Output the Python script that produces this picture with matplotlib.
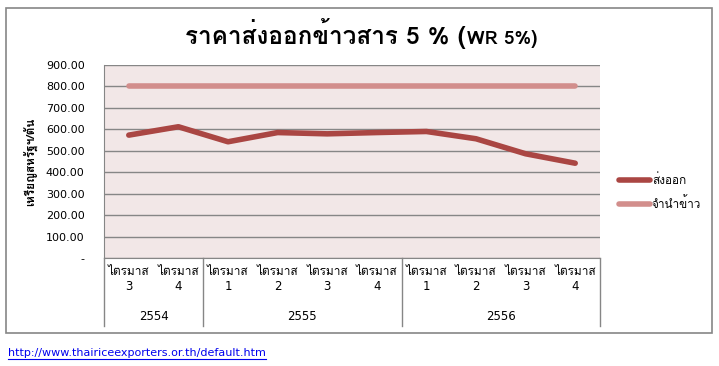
import matplotlib
matplotlib.use("Agg")
import matplotlib.pyplot as plt
from matplotlib import font_manager
from matplotlib.patches import Rectangle
from matplotlib.lines import Line2D
import numpy as np

# data (US$/ton)
years = ["2554", "2555", "2556"]
year_counts = [2, 4, 4]
quarters = ["3", "4", "1", "2", "3", "4", "1", "2", "3", "4"]
export_price = [573, 612, 542, 585, 579, 585, 590, 556, 486, 442]
pledge_price = [800, 800, 800, 800, 800, 800, 800, 800, 800, 800]
yticks = [0, 100, 200, 300, 400, 500, 600, 700, 800, 900]


def find_thai_font():
    # look for any installed font that can draw Thai
    try:
        from fontTools.ttLib import TTFont
    except Exception:
        return None
    found = []
    for f in font_manager.fontManager.ttflist:
        try:
            tt = TTFont(f.fname, fontNumber=0, lazy=True)
            cmap = tt.getBestCmap()
            if cmap and 0x0E2A in cmap and 0x0E44 in cmap:
                found.append(f.name)
        except Exception:
            continue
    for pref in ["Tahoma", "Loma", "Garuda", "Noto Sans Thai", "Noto Sans Thai UI",
                 "Sarabun", "Kinnari", "Norasi", "Waree", "Umpush"]:
        if pref in found:
            return pref
    return found[0] if found else None


thai = find_thai_font()
families = ([thai] if thai else []) + ["DejaVu Sans"]
plt.rcParams["font.family"] = families

fig = plt.figure(figsize=(7.19, 3.66), dpi=100)
W, H = 719, 366


def fx(px):
    return px / W


def fy(py):
    return 1 - py / H


# outer chart frame
fig.patches.append(Rectangle((fx(6), fy(333)), fx(712) - fx(6), fy(8) - fy(333),
                             transform=fig.transFigure, fill=False,
                             edgecolor="#868686", linewidth=1.2))

ax = fig.add_axes([fx(104), fy(258), fx(600) - fx(104), fy(65) - fy(258)])
ax.set_facecolor("#F2E7E7")
x = np.arange(len(quarters))
ax.plot(x, export_price, color="#AA4643", linewidth=4, solid_capstyle="round",
        label="ส่งออก", zorder=3)
ax.plot(x, pledge_price, color="#D28E8C", linewidth=4, solid_capstyle="round",
        label="จำนำข้าว", zorder=3)
ax.set_xlim(-0.5, len(quarters) - 0.5)
ax.set_ylim(0, 900)
ax.set_yticks(yticks)
ax.set_yticklabels(["-" if v == 0 else f"{v:.2f}" for v in yticks],
                   fontsize=8, family="DejaVu Sans")
ax.yaxis.grid(True, color="#868686", linewidth=1)
ax.set_axisbelow(True)
ax.tick_params(axis="y", length=0, pad=14)
ax.set_xticks([])
for s in ["top", "right"]:
    ax.spines[s].set_visible(False)
ax.spines["left"].set_color("#868686")
ax.spines["bottom"].set_color("#868686")

# category labels (two-level axis)
for i, q in enumerate(quarters):
    ax.text(i, -0.07, "ไตรมาส", transform=ax.get_xaxis_transform(),
            ha="center", va="center", fontsize=8.5)
    ax.text(i, -0.15, q, transform=ax.get_xaxis_transform(),
            ha="center", va="center", fontsize=8.5, family="DejaVu Sans")
start = 0
bounds = [-0.5]
for yr, n in zip(years, year_counts):
    mid = start + (n - 1) / 2
    ax.text(mid, -0.305, yr, transform=ax.get_xaxis_transform(),
            ha="center", va="center", fontsize=8.5, family="DejaVu Sans")
    start += n
    bounds.append(start - 0.5)
for b in bounds:
    ax.add_line(Line2D([b, b], [0, -0.35], transform=ax.get_xaxis_transform(),
                       color="#868686", linewidth=1, clip_on=False))

ax.set_ylabel("เหรียญสหรัฐฯ/ตัน", fontsize=8.5, fontweight="bold", labelpad=6)

# title: big Thai part, smaller "WR 5%)" like the original, same baseline
t1 = fig.text(0, fy(44), "ราคาส่งออกข้าวสาร 5 % (", ha="left", va="baseline",
              fontsize=17.5, fontweight="bold")
t2 = fig.text(0, fy(44), "WR 5%)", ha="left", va="baseline",
              fontsize=13.5, fontweight="bold")
r = fig.canvas.get_renderer()
w1 = t1.get_window_extent(r).width
w2 = t2.get_window_extent(r).width
x0 = (W - w1 - w2) / 2 + 1
t1.set_x(x0 / W)
t2.set_x((x0 + w1 + 1) / W)

leg = ax.legend(loc="center left", bbox_to_anchor=(1.0, 0.345), frameon=False,
                fontsize=8.5, handlelength=2.6, handletextpad=0.2,
                labelspacing=0.85, borderaxespad=1.2)

fig.text(fx(8), fy(353), "http://www.thairiceexporters.or.th/default.htm",
         color="#0000EE", fontsize=8, family="DejaVu Sans", va="center",
         ha="left")
# underline for the link
fig.add_artist(Line2D([fx(8), fx(266)], [fy(359), fy(359)],
                      transform=fig.transFigure, color="#0000EE", linewidth=0.8))

fig.savefig("out.png", dpi=100, facecolor="white")
